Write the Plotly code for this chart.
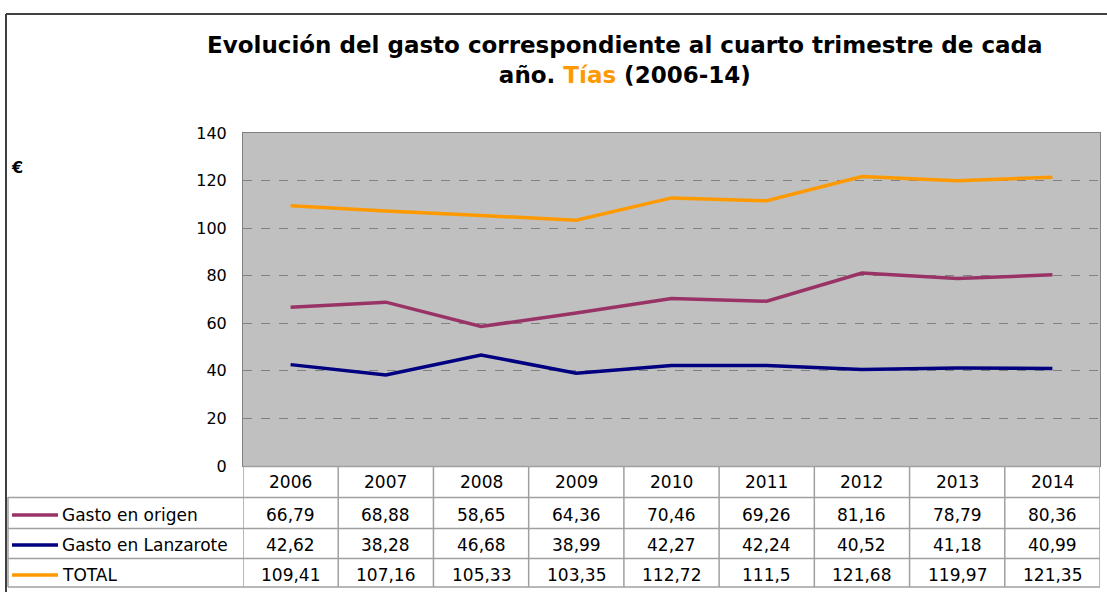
import plotly.graph_objects as go

years = ["2006", "2007", "2008", "2009", "2010", "2011", "2012", "2013", "2014"]
origen = [66.79, 68.88, 58.65, 64.36, 70.46, 69.26, 81.16, 78.79, 80.36]
lanzarote = [42.62, 38.28, 46.68, 38.99, 42.27, 42.24, 40.52, 41.18, 40.99]
total = [109.41, 107.16, 105.33, 103.35, 112.72, 111.5, 121.68, 119.97, 121.35]

series = [
    ("Gasto en origen", origen, "#993366"),
    ("Gasto en Lanzarote", lanzarote, "#000080"),
    ("TOTAL", total, "#FF9900"),
]

W, H = 1107, 592
L, R, T, B = 243, 1100, 133, 466
FONT = "DejaVu Sans"

def px(x):
    return (x - L) / (R - L)

def py(y):
    return (B - y) / (B - T)

def fmt(v):
    s = ("%.2f" % v).rstrip("0").rstrip(".")
    return s.replace(".", ",")

xs = list(range(len(years)))
fig = go.Figure()
for name, vals, col in series:
    fig.add_trace(go.Scatter(x=xs, y=vals, mode="lines", name=name,
                             line=dict(color=col, width=3.5), showlegend=False))

shapes = []
annotations = []
gridc = "#A0A0A0"
# outer chart border
shapes.append(dict(type="line", xref="paper", yref="paper", x0=px(6), x1=px(1120), y0=py(14), y1=py(14),
                   line=dict(color="#404040", width=2)))
shapes.append(dict(type="line", xref="paper", yref="paper", x0=px(6), x1=px(6), y0=py(14), y1=py(600),
                   line=dict(color="#404040", width=2)))

row_lines = [466.5, 497.5, 528.5, 558.5, 587]
for i, y in enumerate(row_lines):
    x0 = L if i == 0 else 8
    shapes.append(dict(type="line", xref="paper", yref="paper", x0=px(x0), x1=px(R), y0=py(y), y1=py(y),
                       line=dict(color=gridc, width=1.5)))
ncol = len(years)
for j in range(ncol + 1):
    shapes.append(dict(type="line", xref="x", yref="paper", x0=j - 0.5, x1=j - 0.5, y0=py(466), y1=py(587),
                       line=dict(color=gridc, width=1.5)))
shapes.append(dict(type="line", xref="paper", yref="paper", x0=px(8), x1=px(8), y0=py(497), y1=py(587),
                   line=dict(color=gridc, width=1.5)))

tf = dict(family=FONT, size=17, color="black")
for j, yr in enumerate(years):
    annotations.append(dict(x=j, y=py(482), xref="x", yref="paper", text=yr, showarrow=False,
                            font=tf, xanchor="center", yanchor="middle"))
text_y = [514.5, 544.5, 574.5]
line_y = [515, 545, 575]
for r, (name, vals, col) in enumerate(series):
    yc = text_y[r]
    for j, v in enumerate(vals):
        annotations.append(dict(x=j, y=py(yc), xref="x", yref="paper", text=fmt(v), showarrow=False,
                                font=tf, xanchor="center", yanchor="middle"))
    annotations.append(dict(x=px(60), y=py(yc), xref="paper", yref="paper", text=name, showarrow=False,
                            font=tf, xanchor="left", yanchor="middle"))
    shapes.append(dict(type="line", xref="paper", yref="paper", x0=px(12), x1=px(58),
                       y0=py(line_y[r]), y1=py(line_y[r]), line=dict(color=col, width=3.5)))

annotations.append(dict(x=px(625), y=py(60), xref="paper", yref="paper", showarrow=False,
                        text="<b>Evolución del gasto correspondiente al cuarto trimestre de cada<br>año. "
                             "<span style='color:#FF9900'>Tías</span> (2006-14)</b>",
                        font=dict(family=FONT, size=23, color="black"), xanchor="center", yanchor="middle",
                        align="center"))
annotations.append(dict(x=px(9), y=py(167), xref="paper", yref="paper", text="<b>€</b>", showarrow=False,
                        font=dict(family=FONT, size=16, color="black"), xanchor="left", yanchor="middle"))

fig.update_layout(
    width=W, height=H,
    margin=dict(l=L, r=W - R, t=T, b=H - B, pad=0),
    paper_bgcolor="white", plot_bgcolor="#C0C0C0",
    shapes=shapes, annotations=annotations,
    xaxis=dict(range=[-0.5, ncol - 0.5], showticklabels=False, showgrid=False, zeroline=False,
               showline=True, linecolor="#808080", linewidth=1, mirror=True, ticks=""),
    yaxis=dict(range=[0, 140], dtick=20, showgrid=True, gridcolor="#808080", griddash="dash", gridwidth=1,
               zeroline=False, showline=True, linecolor="#808080", linewidth=1, mirror=True,
               tickfont=dict(family=FONT, size=16, color="black"), ticks="", ticklabelstandoff=12),
)

fig.write_html("out.html", config={"displayModeBar": False},
               post_script="document.body.style.margin='0';")
